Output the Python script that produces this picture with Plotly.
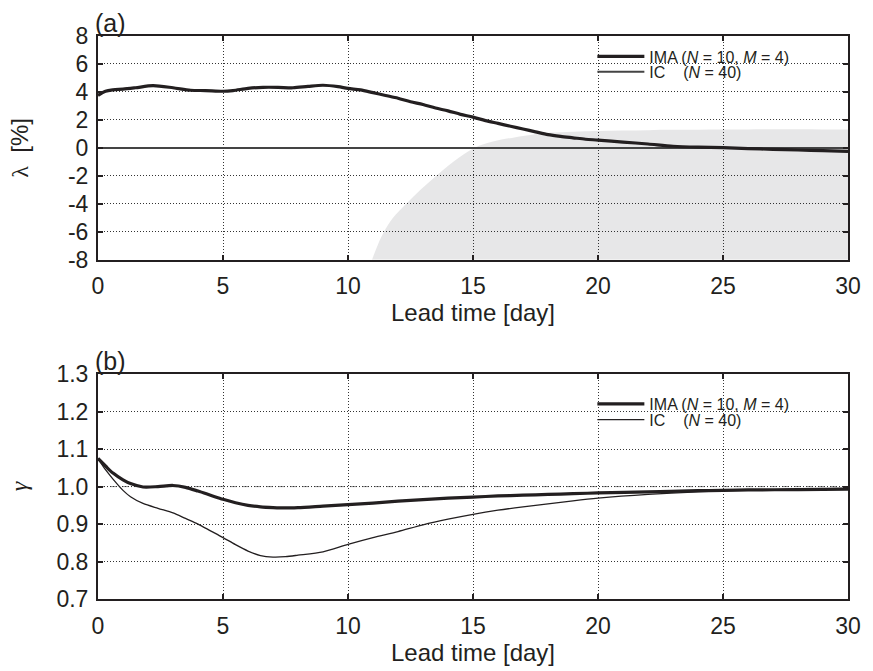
import plotly.graph_objects as go

# ---------------- data ----------------
lead_time_a = [0, 0.3, 0.6, 1, 1.5, 2.2, 3, 3.7, 4.3, 5, 5.4, 6, 6.6, 7.2, 7.8, 8.4, 9, 9.6,
               10, 10.5, 11, 11.5, 12, 12.5, 13, 13.5, 14, 14.5, 15, 15.5, 16, 16.5, 17, 17.5,
               18, 18.5, 19, 19.5, 20, 21, 22, 23, 24, 25, 26, 27, 28, 29, 30]
ima_lambda = [3.75, 4.05, 4.15, 4.2, 4.3, 4.45, 4.3, 4.12, 4.1, 4.05, 4.1, 4.25, 4.33, 4.33, 4.3,
              4.4, 4.48, 4.38, 4.25, 4.15, 3.95, 3.75, 3.55, 3.3, 3.1, 2.85, 2.65, 2.4, 2.2, 1.95,
              1.75, 1.55, 1.35, 1.15, 0.95, 0.82, 0.72, 0.62, 0.56, 0.42, 0.28, 0.12, 0.05, 0.02,
              -0.05, -0.1, -0.15, -0.2, -0.25]
ic_lambda_x = [0, 30]
ic_lambda = [0, 0]

spread_x = [10.96, 11.2, 11.44, 11.8, 12.33, 12.9, 13.52, 14.2, 15.05, 15.8, 16.7, 17.3, 18.0,
            19.0, 20.0, 21.0, 22.0, 23.0, 24.0, 25.0, 26.0, 27.0, 28.0, 29.0, 30.0]
spread_upper = [-8, -6.9, -6, -5.0, -4, -3.0, -2, -1.0, 0, 0.45, 0.77, 0.93, 1.08, 1.16, 1.2,
                1.24, 1.27, 1.29, 1.3, 1.31, 1.32, 1.33, 1.33, 1.32, 1.32]
spread_lower = [-8] * len(spread_x)

lead_time_b = [0, 0.3, 0.6, 1, 1.3, 1.8, 2.4, 3, 3.5, 4, 4.5, 5, 5.5, 6, 6.5, 7, 7.5, 8, 9, 10,
               11, 12, 13, 14, 15, 16, 17, 18, 19, 20, 22, 24, 25, 26, 28, 30]
ima_gamma = [1.075, 1.055, 1.036, 1.018, 1.008, 0.999, 1.0, 1.003, 0.998, 0.988, 0.977, 0.966,
             0.957, 0.95, 0.946, 0.944, 0.943, 0.944, 0.948, 0.952, 0.956, 0.961, 0.965, 0.969,
             0.972, 0.975, 0.977, 0.979, 0.981, 0.983, 0.986, 0.989, 0.99, 0.991, 0.992, 0.993]
ic_gamma = [1.075, 1.045, 1.02, 0.99, 0.973, 0.955, 0.942, 0.93, 0.915, 0.9, 0.882, 0.864, 0.845,
            0.828, 0.816, 0.812, 0.813, 0.817, 0.826, 0.846, 0.864, 0.88, 0.898, 0.913, 0.926,
            0.937, 0.946, 0.954, 0.962, 0.969, 0.979, 0.986, 0.989, 0.991, 0.993, 0.995]

x_ticks = [0, 5, 10, 15, 20, 25, 30]
lam_ticks = [-8, -6, -4, -2, 0, 2, 4, 6, 8]
lam_ticktext = ['-8', '-6', '-4', '-2', '0', '2', '4', '6', '8']
gam_ticks = [0.7, 0.8, 0.9, 1.0, 1.1, 1.2, 1.3]
gam_ticktext = ['0.7', '0.8', '0.9', '1.0', '1.1', '1.2', '1.3']

ima_name = 'IMA (<i>N</i> = 10, <i>M</i> = 4)'
ic_name = 'IC\u00a0\u00a0\u00a0\u00a0(<i>N</i> = 40)'

# ---------------- figure ----------------
INK = '#231f20'
FONT = 'Liberation Sans, Arial, sans-serif'
TOP, PLOT_H, LEFT, PLOT_W = 36, 566, 98, 754


def py(p):
    return 1 - (p - TOP) / PLOT_H


def px(p):
    return (p - LEFT) / PLOT_W


fig = go.Figure()

# (a)
fig.add_trace(go.Scatter(x=spread_x, y=spread_lower, mode='lines', line=dict(width=0),
                         showlegend=False, hoverinfo='skip', xaxis='x', yaxis='y'))
fig.add_trace(go.Scatter(x=spread_x, y=spread_upper, mode='lines', line=dict(width=0, shape='spline'),
                         fill='tonexty', fillcolor='rgba(40,40,48,0.11)',
                         showlegend=False, hoverinfo='skip', xaxis='x', yaxis='y'))
fig.add_trace(go.Scatter(x=ic_lambda_x, y=ic_lambda, mode='lines', name=ic_name,
                         line=dict(color='#444444', width=2), legend='legend2',
                         xaxis='x', yaxis='y'))
fig.add_trace(go.Scatter(x=lead_time_a, y=ima_lambda, mode='lines', name=ima_name,
                         line=dict(color=INK, width=3.2, shape='spline', smoothing=0.8),
                         legend='legend', xaxis='x', yaxis='y'))

# (b)
fig.add_trace(go.Scatter(x=lead_time_b, y=ic_gamma, mode='lines', name=ic_name,
                         line=dict(color=INK, width=1.3, shape='spline', smoothing=0.8),
                         legend='legend4', xaxis='x2', yaxis='y2'))
fig.add_trace(go.Scatter(x=lead_time_b, y=ima_gamma, mode='lines', name=ima_name,
                         line=dict(color=INK, width=3.2, shape='spline', smoothing=0.8),
                         legend='legend3', xaxis='x2', yaxis='y2'))

# reference line gamma = 1
fig.add_shape(type='line', xref='x2', yref='y2', x0=0, x1=30, y0=1.0, y1=1.0,
              line=dict(color='#8a8a8a', width=1, dash='7px,2px,1px,2px'), layer='below')

axis_common = dict(showline=True, linewidth=2, linecolor=INK, mirror='ticks',
                   ticks='inside', ticklen=5, tickwidth=1.5, tickcolor=INK,
                   showgrid=True, gridcolor='#333333', gridwidth=1, griddash='1px,2px',
                   zeroline=False, tickfont=dict(family=FONT, size=23, color=INK))

xtitle = dict(text='Lead time [day]', font=dict(family=FONT, size=24, color=INK), standoff=4)

legend_common = dict(xanchor='left', yanchor='middle', bgcolor='rgba(0,0,0,0)',
                     font=dict(family=FONT, size=16, color=INK), tracegroupgap=0,
                     itemwidth=47, traceorder='normal')

LX = px(595)

fig.update_layout(
    width=873, height=671,
    margin=dict(l=98, r=21, t=36, b=69),
    plot_bgcolor='white', paper_bgcolor='white',
    font=dict(family=FONT, color=INK),
    xaxis=dict(axis_common, domain=[0, 1], range=[0, 30], tickvals=x_ticks, anchor='y',
               ticklabelstandoff=5, title=xtitle),
    yaxis=dict(axis_common, domain=[py(261), 1], range=[-8, 8], tickvals=lam_ticks,
               ticktext=lam_ticktext, anchor='x', ticklabelstandoff=3,
               title=dict(text="<span style='font-family:Liberation Serif'>λ</span>\u00a0\u00a0[%]",
                          font=dict(family=FONT, size=24, color=INK), standoff=33)),
    xaxis2=dict(axis_common, domain=[0, 1], range=[0, 30], tickvals=x_ticks, anchor='y2',
                ticklabelstandoff=5, title=xtitle),
    yaxis2=dict(axis_common, domain=[0, py(376)], range=[0.7, 1.3], tickvals=gam_ticks,
                ticktext=gam_ticktext, anchor='x2', ticklabelstandoff=3,
                title=dict(text="<span style='font-family:Liberation Serif'><i>γ</i></span>",
                           font=dict(family=FONT, size=24, color=INK), standoff=22)),
    legend=dict(legend_common, x=LX, y=py(56.5)),
    legend2=dict(legend_common, x=LX, y=py(72)),
    legend3=dict(legend_common, x=LX, y=py(406)),
    legend4=dict(legend_common, x=LX, y=py(421.7)),
    showlegend=True,
    annotations=[
        dict(text='(a)', xref='paper', yref='paper', x=0, y=1, xanchor='left', yanchor='bottom',
             xshift=-5, yshift=-3, showarrow=False, font=dict(family=FONT, size=25, color=INK)),
        dict(text='(b)', xref='paper', yref='paper', x=0, y=py(376), xanchor='left', yanchor='bottom',
             xshift=-5, yshift=-3, showarrow=False, font=dict(family=FONT, size=25, color=INK)),
    ],
)

fig.write_html('out.html')
